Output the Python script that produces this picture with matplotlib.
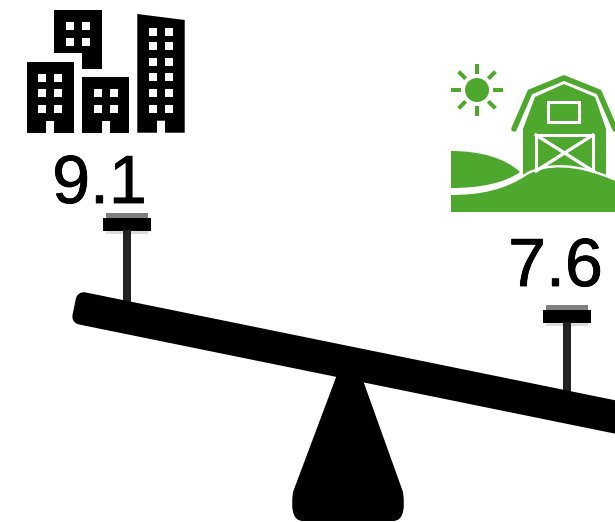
import matplotlib
matplotlib.use('Agg')
import matplotlib.pyplot as plt
import matplotlib.patheffects as pe
from matplotlib.patches import Polygon, Rectangle, Circle, PathPatch
from matplotlib.path import Path
import numpy as np

plt.rcParams['font.family'] = ['Liberation Sans', 'DejaVu Sans']

# values on the seesaw
labels = ['9.1', '7.6']
label_x = [99.5, 555.5]
label_y = [203, 286]

GREEN = '#4fa82e'

# buildings: outline points, door x, window columns and rows
top_building = [(54, 10), (102, 10), (102, 69), (82, 69), (82, 53), (54, 53)]
top_win_x = [66, 82]
top_win_y = [22, 38]

left_building = [(26.7, 61.7), (74, 61.7), (74, 132.7), (54.3, 132.7), (54.3, 120.7), (46.3, 120.7), (46.3, 132.7), (26.7, 132.7)]
left_win_x = [38.3, 54.3]
left_win_y = [73.7, 89.3, 105.3]

mid_building = [(82, 77.3), (129.3, 77.3), (129.3, 132.7), (109.7, 132.7), (109.7, 120.7), (101.7, 120.7), (101.7, 132.7), (82, 132.7)]
mid_win_x = [93.7, 109.7]
mid_win_y = [89.3, 105.3]

right_building = [(137.3, 14), (184.7, 20), (184.7, 132.7), (165, 132.7), (165, 120.7), (157, 120.7), (157, 132.7), (137.3, 132.7)]
right_win_x = [149, 165]
right_win_y = [28, 41.7, 57.7, 73.3, 89.3, 105.3]

# barn
roof_line = [(514, 129), (530, 92), (564, 78), (599, 92), (615, 129)]
barn_body = [(523, 129), (535, 97), (564, 84), (595, 97), (606, 129), (606, 175), (523, 175)]
back_hill = [(451, 151), (480, 151), (505, 158), (520, 172), (505, 183), (480, 188), (451, 188), (451, 151)]
front_hill = [(451, 195), (480, 195), (505, 190), (527, 175), (545, 165), (575, 163), (615, 181), (615, 212), (451, 212), (451, 195)]

# seesaw
beam = [(83.7, 300.2), (631.7, 411.8), (628.3, 428.2), (80.3, 316.6)]
post_x = [123, 563]
post_top = [230, 322]
post_bottom = [305, 405]
cap_x = [103, 543]
cap_y = [213, 305]
base_x = [338, 293, 289, 303, 393, 407, 403, 360]
base_y = [372, 492, 521, 521, 521, 521, 492, 372]

fig = plt.figure(figsize=(6.15, 5.22), dpi=100)
ax = fig.add_axes([0, 0, 1, 1])
ax.set_xlim(0, 615)
ax.set_ylim(522, 0)
ax.axis('off')


def building(outline, win_x, win_y):
    ax.add_patch(Polygon(outline, closed=True, fc='black', ec='none'))
    for wx in win_x:
        for wy in win_y:
            ax.add_patch(Rectangle((wx, wy), 8, 8, fc='white', ec='none'))


building(top_building, top_win_x, top_win_y)
building(left_building, left_win_x, left_win_y)
building(mid_building, mid_win_x, mid_win_y)
building(right_building, right_win_x, right_win_y)

# sun
ax.add_patch(Circle((477, 90), 12, fc=GREEN, ec='none'))
for a in np.arange(0, 360, 45):
    c, s = np.cos(np.radians(a)), np.sin(np.radians(a))
    ax.plot([477 + 16 * c, 477 + 26 * c], [90 + 16 * s, 90 + 26 * s], color=GREEN, lw=2.9, solid_capstyle='butt')

# barn
rx, ry = zip(*roof_line)
ax.plot(rx, ry, color=GREEN, lw=4, solid_joinstyle='miter', solid_capstyle='round')
ax.add_patch(Polygon(barn_body, closed=True, fc=GREEN, ec='none'))
ax.add_patch(Rectangle((548, 102), 31, 20, fc=GREEN, ec='white', lw=2.2))
ax.add_patch(Rectangle((536, 135), 57, 36, fc=GREEN, ec='white', lw=2.2))
ax.plot([536, 593], [135, 171], color='white', lw=2.4)
ax.plot([536, 593], [171, 135], color='white', lw=2.4)

hill_codes = [Path.MOVETO] + [Path.CURVE4] * 6 + [Path.CLOSEPOLY]
ax.add_patch(PathPatch(Path(back_hill, hill_codes), fc=GREEN, ec='none'))
front_codes = [Path.MOVETO] + [Path.CURVE4] * 6 + [Path.LINETO, Path.LINETO, Path.CLOSEPOLY]
ax.add_patch(PathPatch(Path(front_hill, front_codes), fc='white', ec='white', lw=3.5))
ax.add_patch(PathPatch(Path(front_hill, front_codes), fc=GREEN, ec='none'))

# text, a thin stroke gives the heavier look of the original
for t, x, y in zip(labels, label_x, label_y):
    ax.text(x, y, t, fontsize=49, color='black', ha='center', va='baseline',
            path_effects=[pe.withStroke(linewidth=0.6, foreground='black')])

# seesaw
for cx, cy in zip(cap_x, cap_y):
    ax.add_patch(Rectangle((cx + 3, cy), 42, 6, fc='#808080', ec='none'))
    ax.add_patch(Rectangle((cx, cy + 5), 48, 13, fc='black', ec='none'))
    ax.add_patch(Rectangle((cx + 3, cy + 18), 42, 3, fc='#dddddd', ec='none'))

for px, top, bottom in zip(post_x, post_top, post_bottom):
    ax.add_patch(Rectangle((px, top), 8, bottom - top, fc='#222222', ec='none'))

ax.add_patch(Polygon(beam, closed=True, fc='black', ec='black', lw=11.5, joinstyle='round'))

codes = [Path.MOVETO, Path.LINETO, Path.CURVE3, Path.CURVE3, Path.LINETO, Path.CURVE3, Path.CURVE3, Path.LINETO, Path.CLOSEPOLY]
verts = list(zip(base_x, base_y)) + [(base_x[0], base_y[0])]
ax.add_patch(PathPatch(Path(verts, codes), fc='black', ec='none'))

fig.savefig('out.png', dpi=100)
